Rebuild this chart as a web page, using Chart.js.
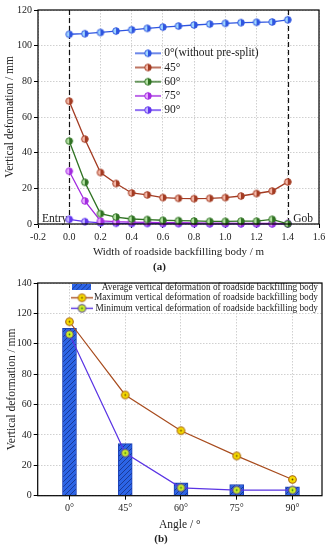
<!DOCTYPE html>
<html>
<head>
<meta charset="utf-8">
<script src="https://cdn.jsdelivr.net/npm/chart.js@4.4.1/dist/chart.umd.min.js"></script>
<style>
  body { margin: 0; background: #fff; }
  canvas { display: block; }
</style>
</head>
<body>
<canvas id="chartA" width="330" height="275"></canvas>
<canvas id="chartB" width="330" height="275"></canvas>
<script>
// (a) vertical deformation along the backfilling body width
const widths = [0, 0.1, 0.2, 0.3, 0.4, 0.5, 0.6, 0.7, 0.8, 0.9, 1.0, 1.1, 1.2, 1.3, 1.4];
const def0 = [106.4, 106.7, 107.4, 108.2, 108.9, 109.7, 110.4, 111.0, 111.6, 112.1, 112.5, 112.9, 113.1, 113.3, 114.5];
const def45 = [68.9, 47.6, 28.9, 22.7, 17.4, 16.3, 14.8, 14.4, 14.2, 14.4, 14.8, 15.7, 17.1, 18.5, 23.6];
const def60 = [46.5, 23.4, 5.8, 3.9, 2.8, 2.5, 2.1, 1.9, 1.7, 1.5, 1.5, 1.6, 1.6, 2.6, 0.1];
const def75 = [29.6, 12.9, 1.7, 1.3, 1.1, 0.9, 0.8, 0.7, 0.6, 0.5, 0.5, 0.4, 0.4, 0.3, 0.2];
const def90 = [2.6, 1.3, 0.6, 0.4, 0.3, 0.3, 0.2, 0.2, 0.2, 0.1, 0.1, 0.1, 0.1, 0.1, 0.1];
const seriesNamesA = ['0°(without pre-split)', '45°', '60°', '75°', '90°'];
const xTicksA = [-0.2, 0, 0.2, 0.4, 0.6, 0.8, 1.0, 1.2, 1.4, 1.6];
const yTicksA = [0, 20, 40, 60, 80, 100, 120];
const dividers = [0, 1.4];

// (b) average / max / min deformation per angle
const angles = ['0°', '45°', '60°', '75°', '90°'];
const avgDef = [110.1, 34.3, 8.5, 7.4, 5.9];
const maxDef = [114.5, 66.3, 42.8, 26.2, 10.7];
const minDef = [106.2, 28.1, 5.2, 3.7, 3.7];
const seriesNamesB = [
    'Average vertical deformation of roadside backfilling body',
    'Maximum vertical deformation of roadside backfilling body',
    'Minimum vertical deformation of roadside backfilling body'
];
const yTicksB = [0, 20, 40, 60, 80, 100, 120, 140];

const SERIF = "'Liberation Serif', 'Times New Roman', serif";
const TXT = '#222';

// little canvases used as point styles
function halfMarker(dark, light, r) {
    const c = document.createElement('canvas');
    const s = Math.ceil(r * 2 + 3);
    c.width = s; c.height = s;
    const g = c.getContext('2d');
    const m = s / 2;
    g.beginPath(); g.arc(m, m, r, 0, Math.PI * 2); g.fillStyle = light; g.fill();
    g.beginPath(); g.moveTo(m, m - r); g.arc(m, m, r, -Math.PI / 2, Math.PI / 2); g.closePath();
    g.fillStyle = dark; g.fill();
    g.beginPath(); g.arc(m, m, r, 0, Math.PI * 2); g.strokeStyle = dark; g.lineWidth = 1; g.stroke();
    return c;
}

function dotMarker(fill, ring, dot, r) {
    const c = document.createElement('canvas');
    const s = Math.ceil(r * 2 + 3);
    c.width = s; c.height = s;
    const g = c.getContext('2d');
    const m = s / 2;
    g.beginPath(); g.arc(m, m, r, 0, Math.PI * 2);
    g.fillStyle = fill; g.fill();
    g.strokeStyle = ring; g.lineWidth = 1.1; g.stroke();
    g.beginPath(); g.arc(m, m, 0.9, 0, Math.PI * 2); g.fillStyle = dot; g.fill();
    return c;
}

function lineSwatch(marker, color, w) {
    const c = document.createElement('canvas');
    c.width = w; c.height = marker.height;
    const g = c.getContext('2d');
    g.strokeStyle = color; g.lineWidth = 1.4;
    g.beginPath(); g.moveTo(0, c.height / 2); g.lineTo(w, c.height / 2); g.stroke();
    g.drawImage(marker, Math.round((w - marker.width) / 2), 0);
    return c;
}

function hatchCanvas(w, h) {
    const c = document.createElement('canvas');
    c.width = w; c.height = h;
    const g = c.getContext('2d');
    g.fillStyle = '#2c64e6'; g.fillRect(0, 0, w, h);
    g.strokeStyle = '#1a3a98'; g.lineWidth = 1;
    g.beginPath();
    for (let k = -h; k < w + h; k += 5) { g.moveTo(k, h); g.lineTo(k + h, 0); }
    g.stroke();
    return c;
}

// full box round the plot area
const frame = {
    id: 'frame',
    afterDraw(chart) {
        const { ctx, chartArea: a } = chart;
        ctx.save();
        ctx.strokeStyle = '#000';
        ctx.lineWidth = 1.2;
        ctx.strokeRect(a.left, a.top, a.right - a.left, a.bottom - a.top);
        ctx.restore();
    }
};

// move the legend to a fixed spot inside the plot
function placeLegend(left, top, right) {
    return {
        id: 'placeLegend',
        afterLayout(chart) {
            const lg = chart.legend;
            lg.left = left; lg.top = top; lg.right = right; lg.bottom = chart.height;
            lg.width = right - left; lg.height = chart.height - top;
        }
    };
}

function legendLabels(swatches) {
    return chart => {
        const items = Chart.defaults.plugins.legend.labels.generateLabels(chart);
        items.forEach(it => { it.pointStyle = swatches[it.datasetIndex]; });
        return items.sort((a, b) => a.datasetIndex - b.datasetIndex);
    };
}

function gridOpts() {
    return {
        color: '#c4c4c4', lineWidth: 0.8,
        tickColor: '#000', tickWidth: 1, tickLength: 4, tickBorderDash: []
    };
}
const dotted = { display: false, dash: [1.5, 1.5] };

// ---------- chart (a) ----------
const colorsA = ['#2f55e0', '#a33b22', '#2f7222', '#a32ae0', '#6236ee'];
const lightA = ['#9fd6ff', '#f4b8a8', '#b4e2a4', '#e6aaff', '#c4b6ff'];
const valuesA = [def0, def45, def60, def75, def90];
const markersA = colorsA.map((c, i) => halfMarker(c, lightA[i], 3.3));
const swatchesA = markersA.map((m, i) => lineSwatch(m, colorsA[i], 26));

const entryGob = {
    id: 'entryGob',
    beforeDatasetsDraw(chart) {
        const { ctx, chartArea: a, scales } = chart;
        ctx.save();
        ctx.strokeStyle = '#111';
        ctx.lineWidth = 1.2;
        ctx.setLineDash([5, 3]);
        dividers.forEach(v => {
            const px = Math.round(scales.x.getPixelForValue(v)) + 0.5;
            ctx.beginPath(); ctx.moveTo(px, a.top); ctx.lineTo(px, a.bottom); ctx.stroke();
        });
        ctx.setLineDash([]);
        ctx.fillStyle = TXT;
        ctx.font = '11.5px ' + SERIF;
        ctx.textBaseline = 'middle';
        ctx.textAlign = 'left';
        ctx.fillText('Entry', a.left + 4, a.bottom - 5.5);
        ctx.textAlign = 'right';
        ctx.fillText('Gob', a.right - 6, a.bottom - 5.5);
        ctx.restore();
    }
};

new Chart(document.getElementById('chartA'), {
    type: 'line',
    data: {
        datasets: valuesA.map((vals, i) => ({
            label: seriesNamesA[i],
            data: widths.map((w, j) => ({ x: w, y: vals[j] })),
            borderColor: colorsA[i],
            backgroundColor: colorsA[i],
            borderWidth: 1.3,
            pointStyle: markersA[i],
            tension: 0,
            clip: false
        }))
    },
    options: {
        responsive: false,
        animation: false,
        layout: { padding: { top: 10, right: 11, left: 0, bottom: 0 } },
        scales: {
            x: {
                type: 'linear', min: -0.2, max: 1.6,
                afterBuildTicks: s => { s.ticks = xTicksA.map(v => ({ value: v })); },
                afterFit: s => { s.height = 37.2; },
                ticks: { callback: v => v.toFixed(1), font: { family: SERIF, size: 10 }, color: TXT, padding: 3, maxRotation: 0, autoSkip: false },
                grid: gridOpts(),
                border: dotted,
                title: { display: true, text: 'Width of roadside backfilling body / m', color: TXT,
                         font: { family: SERIF, size: 11, lineHeight: 1 }, padding: { top: 0, bottom: 3.7 } }
            },
            y: {
                min: 0, max: 120,
                afterBuildTicks: s => { s.ticks = yTicksA.map(v => ({ value: v })); },
                afterFit: s => { s.width = 38; },
                ticks: { font: { family: SERIF, size: 10 }, color: TXT, padding: 2 },
                grid: gridOpts(),
                border: dotted,
                title: { display: true, text: 'Vertical deformation / mm', color: TXT,
                         font: { family: SERIF, size: 11.5, lineHeight: 1 }, padding: { top: 4.3, bottom: 0 } }
            }
        },
        plugins: {
            legend: {
                position: 'chartArea',
                align: 'start',
                labels: {
                    usePointStyle: true, pointStyleWidth: 21, padding: 2.7,
                    font: { family: SERIF, size: 11.5 }, color: TXT,
                    generateLabels: legendLabels(swatchesA)
                }
            },
            title: { display: true, text: '(a)', position: 'bottom', color: TXT,
                     font: { family: SERIF, size: 11, weight: 'bold', lineHeight: 1 }, padding: { top: 0, bottom: 2.8 } },
            tooltip: { enabled: false }
        }
    },
    plugins: [frame, entryGob, placeLegend(134.8, 44.85, 330)]
});

// ---------- chart (b) ----------
const ctxB = document.getElementById('chartB').getContext('2d');
const hatch = ctxB.createPattern(hatchCanvas(5, 5), 'repeat');
const maxColor = '#a84c1e';
const minColor = '#5a34e4';
const maxMarker = dotMarker('#f7dd00', '#a86410', '#6a4a00', 3.8);
const minMarker = dotMarker('#cdee2a', '#5a4a8a', '#2f7a10', 3.8);
const swatchesB = [hatchCanvas(19, 6), lineSwatch(maxMarker, maxColor, 22), lineSwatch(minMarker, minColor, 22)];

new Chart(ctxB, {
    type: 'bar',
    data: {
        datasets: [
            {
                type: 'bar',
                label: seriesNamesB[0],
                data: angles.map((a, i) => ({ x: i, y: avgDef[i] })),
                backgroundColor: hatch,
                borderColor: '#1d40b4',
                borderWidth: 1,
                barThickness: 14,
                order: 2
            },
            {
                type: 'line',
                label: seriesNamesB[1],
                data: angles.map((a, i) => ({ x: i, y: maxDef[i] })),
                borderColor: maxColor,
                backgroundColor: maxColor,
                borderWidth: 1.2,
                pointStyle: maxMarker,
                tension: 0,
                order: 0
            },
            {
                type: 'line',
                label: seriesNamesB[2],
                data: angles.map((a, i) => ({ x: i, y: minDef[i] })),
                borderColor: minColor,
                backgroundColor: minColor,
                borderWidth: 1.2,
                pointStyle: minMarker,
                tension: 0,
                order: 1
            }
        ]
    },
    options: {
        responsive: false,
        animation: false,
        layout: { padding: { top: 6, right: 8, left: 0, bottom: 0 } },
        scales: {
            x: {
                type: 'linear', min: -0.57, max: 4.53, offset: false,
                afterBuildTicks: s => { s.ticks = angles.map((a, i) => ({ value: i })); },
                afterFit: s => { s.height = 38.1; },
                ticks: { callback: v => angles[v], font: { family: SERIF, size: 10 }, color: TXT, padding: 3, maxRotation: 0, autoSkip: false },
                grid: Object.assign(gridOpts(), { offset: false }),
                border: dotted,
                title: { display: true, text: 'Angle / °', color: TXT,
                         font: { family: SERIF, size: 11.5, lineHeight: 1 }, padding: { top: 0, bottom: 3.3 } }
            },
            y: {
                min: 0, max: 140,
                afterBuildTicks: s => { s.ticks = yTicksB.map(v => ({ value: v })); },
                afterFit: s => { s.width = 37.7; },
                ticks: { font: { family: SERIF, size: 10 }, color: TXT, padding: 2 },
                grid: gridOpts(),
                border: dotted,
                title: { display: true, text: 'Vertical deformation / mm', color: TXT,
                         font: { family: SERIF, size: 11.5, lineHeight: 1 }, padding: { top: 6, bottom: 0 } }
            }
        },
        plugins: {
            legend: {
                position: 'chartArea',
                align: 'start',
                labels: {
                    usePointStyle: true, pointStyleWidth: 22, padding: 1.2,
                    textAlign: 'right',
                    font: { family: SERIF, size: 9.3 }, color: TXT,
                    generateLabels: legendLabels(swatchesB)
                }
            },
            title: { display: true, text: '(b)', position: 'bottom', color: TXT,
                     font: { family: SERIF, size: 11, weight: 'bold', lineHeight: 1 }, padding: { top: 0, bottom: 5.2 } },
            tooltip: { enabled: false }
        }
    },
    plugins: [frame, placeLegend(69.3, 6.45, 318)]
});
</script>
</body>
</html>
